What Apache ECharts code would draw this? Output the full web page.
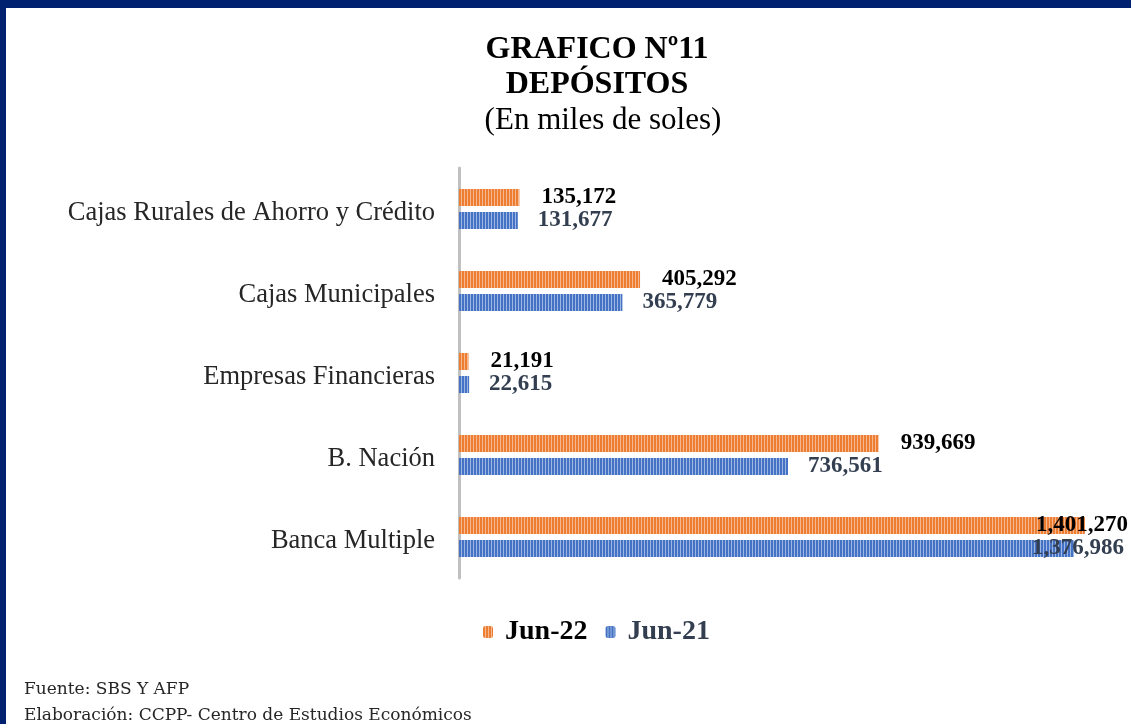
<!DOCTYPE html>
<html>
<head>
<meta charset="utf-8">
<script src="https://cdn.jsdelivr.net/npm/echarts@6/dist/echarts.min.js"></script>
<style>
html, body {
  margin: 0;
  padding: 0;
  background: #fff;
}
#chart {
  height: 724px;
  width: 1131px;
}
</style>
</head>
<body>
<div id="chart"></div>
<script>
const categories = [
  'Cajas Rurales de Ahorro y Crédito',
  'Cajas Municipales',
  'Empresas Financieras',
  'B. Nación',
  'Banca Multiple'
]
const seriesNames = ['Jun-22', 'Jun-21']
const jun22 = [135172, 405292, 21191, 939669, 1401270]
const jun21 = [131677, 365779, 22615, 736561, 1376986]

const serif = '"Liberation Serif", "Times New Roman", serif'

// vertical stripes like the excel fill
function stripes (base, light) {
  const c = document.createElement('canvas')
  c.width = 3
  c.height = 4
  const ctx = c.getContext('2d')
  ctx.fillStyle = base
  ctx.fillRect(0, 0, 3, 4)
  ctx.fillStyle = light
  ctx.fillRect(2, 0, 1, 4)
  return { image: c, repeat: 'repeat' }
}

function fmt (p) {
  return p.value.toLocaleString('en-US')
}

// last row label is pulled back inside the plot
function buildData (values, lastOffset) {
  return values.map((v, i) => {
    if (i !== values.length - 1) return v
    return {
      value: v,
      label: { position: 'insideRight', offset: [lastOffset, 0] }
    }
  })
}

const chart = echarts.init(document.getElementById('chart'))
chart.setOption({
  animation: false,
  backgroundColor: '#fff',
  title: [
    {
      text: 'GRAFICO Nº11\nDEPÓSITOS',
      left: 592,
      top: 27,
      textAlign: 'center',
      textStyle: {
        color: '#000',
        fontFamily: serif,
        fontSize: 32,
        fontWeight: 'bold',
        lineHeight: 35
      }
    },
    {
      text: '(En miles de soles)',
      left: 598,
      top: 100,
      textAlign: 'center',
      textStyle: {
        color: '#000',
        fontFamily: serif,
        fontSize: 31,
        fontWeight: 'normal'
      }
    }
  ],
  legend: {
    left: 478,
    top: 613,
    itemWidth: 10,
    itemHeight: 12,
    itemGap: 18,
    textStyle: {
      fontFamily: serif,
      fontSize: 28,
      fontWeight: 'bold',
      padding: [0, 0, 0, 7]
    },
    data: [
      { name: seriesNames[0], textStyle: { color: '#000' } },
      { name: seriesNames[1], textStyle: { color: '#333f50' } }
    ]
  },
  grid: {
    left: 459,
    top: 168,
    width: 670,
    height: 410
  },
  xAxis: {
    type: 'value',
    min: 0,
    max: 1500000,
    show: false
  },
  yAxis: {
    type: 'category',
    inverse: true,
    data: categories,
    axisLine: {
      lineStyle: { color: '#c0c0c0', width: 3 }
    },
    axisTick: { show: false },
    axisLabel: {
      margin: 24,
      formatter: (v) => '{c|' + v + '}',
      rich: {
        c: {
          color: '#262626',
          fontFamily: serif,
          fontSize: 26.5,
          padding: [8, 0, 0, 0]
        }
      }
    }
  },
  series: [
    {
      name: seriesNames[0],
      type: 'bar',
      barWidth: 17,
      barGap: '35%',
      data: buildData(jun22, 65),
      itemStyle: { color: stripes('#ed7d31', '#f6b891') },
      label: {
        show: true,
        position: 'right',
        distance: 22,
        formatter: fmt,
        color: '#000',
        fontFamily: serif,
        fontSize: 23,
        fontWeight: 'bold'
      }
    },
    {
      name: seriesNames[1],
      type: 'bar',
      barWidth: 17,
      barGap: '35%',
      data: buildData(jun21, 70),
      itemStyle: { color: stripes('#4472c4', '#9fb6e2') },
      label: {
        show: true,
        position: 'right',
        distance: 20,
        formatter: fmt,
        color: '#333f50',
        fontFamily: serif,
        fontSize: 23,
        fontWeight: 'bold'
      }
    }
  ],
  graphic: [
    {
      type: 'rect',
      shape: { x: 0, y: 0, width: 1131, height: 8 },
      style: { fill: '#002070' }
    },
    {
      type: 'rect',
      shape: { x: 0, y: 0, width: 6, height: 724 },
      style: { fill: '#002070' }
    },
    {
      type: 'text',
      left: 24,
      top: 681,
      style: {
        text: 'Fuente: SBS Y AFP',
        fill: '#262626',
        font: '17px "DejaVu Serif", serif'
      }
    },
    {
      type: 'text',
      left: 24,
      top: 707,
      style: {
        text: 'Elaboración: CCPP- Centro de Estudios Económicos',
        fill: '#262626',
        font: '17px "DejaVu Serif", serif'
      }
    }
  ]
})
</script>
</body>
</html>
